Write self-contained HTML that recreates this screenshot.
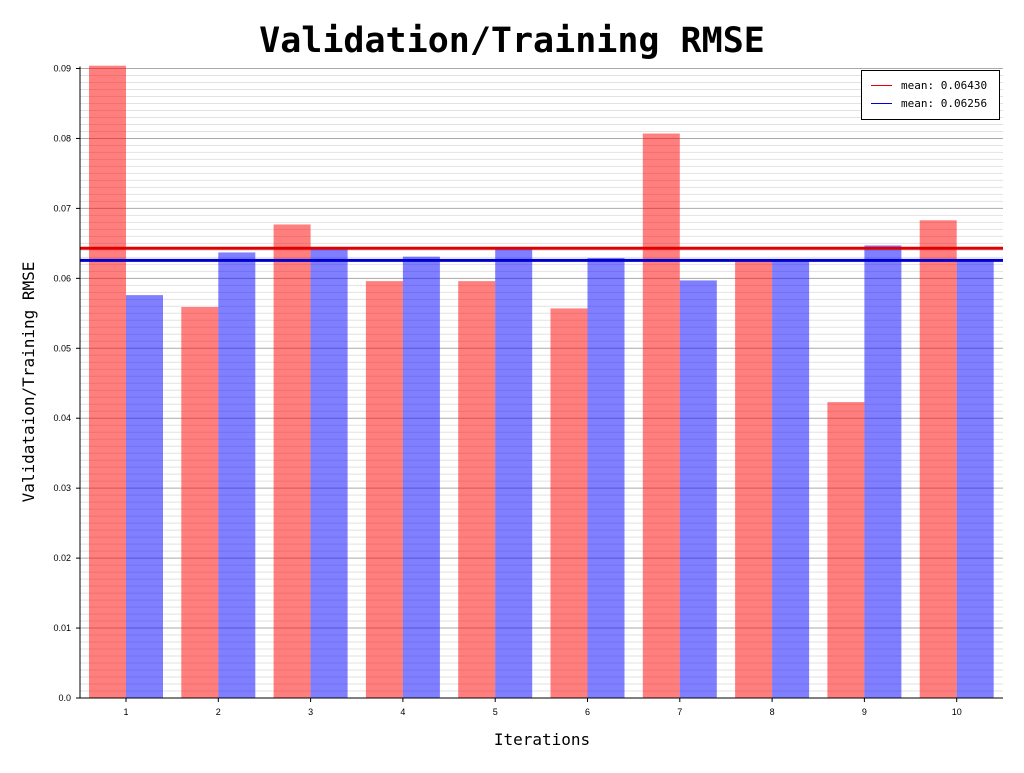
<!DOCTYPE html>
<html><head><meta charset="utf-8"><style>
body{margin:0;background:#fff;}
svg text{font-family:"Liberation Sans",sans-serif;fill:#000;}
</style></head><body>
<svg id="chart" width="1024" height="768">
<text x="512" y="52" text-anchor="middle" font-size="35" font-weight="bold" style="font-family:'DejaVu Sans Mono',monospace">Validation/Training RMSE</text>
<text x="542" y="745" text-anchor="middle" font-size="16" style="font-family:'DejaVu Sans Mono',monospace">Iterations</text>
<text transform="translate(34,382) rotate(-90)" text-anchor="middle" font-size="16" style="font-family:'DejaVu Sans Mono',monospace">Validataion/Training RMSE</text>
<g id="grid"></g><g id="bars"></g><g id="means"></g><g id="axes"></g>
<g>
<rect x="861.5" y="70.5" width="138" height="49" fill="#fff" stroke="#000"/>
<line x1="871" y1="85.5" x2="892" y2="85.5" stroke="#e00000"/>
<line x1="871" y1="103.5" x2="892" y2="103.5" stroke="#0000dd"/>
<text x="901" y="89" font-size="11" style="font-family:'DejaVu Sans Mono',monospace">mean: 0.06430</text>
<text x="901" y="107" font-size="11" style="font-family:'DejaVu Sans Mono',monospace">mean: 0.06256</text>
</g>
</svg>
<script>
const categories=["1","2","3","4","5","6","7","8","9","10"];
const validation=[0.0904,0.0559,0.0677,0.0596,0.0596,0.0557,0.0807,0.0626,0.0423,0.0683];
const training=[0.0576,0.0637,0.0643,0.0631,0.0643,0.0629,0.0597,0.0627,0.0647,0.0627];
const means=[0.06430,0.06256];
const yTicks=["0.0","0.01","0.02","0.03","0.04","0.05","0.06","0.07","0.08","0.09"];
const NS="http://www.w3.org/2000/svg";
const X0=80,X1=1003,Y0=698,YT=68.5,YMAX=0.09;
const y=v=>Y0-(v/YMAX)*(Y0-YT);
const step=92.3,first=126;
const xc=i=>first+i*step;
const bw=37;
function mk(t,a,p){const e=document.createElementNS(NS,t);for(const k in a)e.setAttribute(k,a[k]);p.appendChild(e);return e;}
const grid=document.getElementById('grid'),bars=document.getElementById('bars'),mg=document.getElementById('means'),ax=document.getElementById('axes');
for(let k=1;k<=90;k++){const v=k*0.001;if(k%10===0)continue;
const l=mk('line',{x1:X0,x2:X1,y1:y(v),y2:y(v),stroke:'#e2e2e2','stroke-width':1},grid);

}
yTicks.forEach((t,i)=>{const v=parseFloat(t);const yy=y(v);
if(i>0){const l=mk('line',{x1:X0,x2:X1,y1:yy,y2:yy,stroke:'#aaa','stroke-width':1},grid);

}
mk('line',{x1:X0-4,x2:X0,y1:yy,y2:yy,stroke:'#000'},ax);
const tx=mk('text',{x:X0-9,y:yy+3,'text-anchor':'end','font-size':9},ax);tx.textContent=t;

});
categories.forEach((c,i)=>{
const r=mk('rect',{x:xc(i)-bw,y:y(validation[i]),width:bw,height:Y0-y(validation[i]),fill:'#ff0000','fill-opacity':0.5},bars);


const b=mk('rect',{x:xc(i),y:y(training[i]),width:bw,height:Y0-y(training[i]),fill:'#0000ff','fill-opacity':0.5},bars);


mk('line',{x1:xc(i),x2:xc(i),y1:Y0,y2:Y0+4,stroke:'#000'},ax);
const t=mk('text',{x:xc(i),y:Y0+17,'text-anchor':'middle','font-size':9},ax);t.textContent=c;

});
const ml1=mk('line',{x1:X0,x2:X1,y1:y(means[0]),y2:y(means[0]),stroke:'#e00000','stroke-width':3},mg);


const ml2=mk('line',{x1:X0,x2:X1,y1:y(means[1]),y2:y(means[1]),stroke:'#0000cc','stroke-width':3},mg);


const ya=mk('line',{x1:X0,x2:X0,y1:YT-2,y2:Y0,stroke:'#000'},ax);


const xa=mk('line',{x1:X0,x2:X1,y1:Y0,y2:Y0,stroke:'#000'},ax);


</script>
</body></html>
